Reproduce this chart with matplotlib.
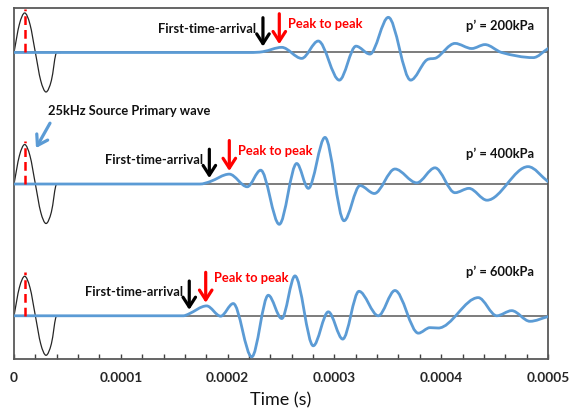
import matplotlib.pyplot as plt
import numpy as np
from matplotlib.path import Path
from matplotlib.patches import PathPatch
from matplotlib.ticker import MultipleLocator, FuncFormatter

# times in microseconds, amplitudes normalised to the source peak
source_t = [0, 5, 10, 15, 20, 25, 30, 35, 40, 44]
source_a = [0, 0.71, 1.0, 0.71, 0, -0.71, -1.0, -0.71, 0, 0]

t_200 = [0, 221.0, 233.1, 250.7, 269.4, 284.9, 304.6, 320.2, 333.3, 350.5,
         371.4, 386.4, 395.8, 412.9, 428.6, 441.0, 456.6, 486.2, 500]
a_200 = [0, 0, 0.02, 0.13, -0.15, 0.29, -0.70, 0.16, -0.04, 0.89,
         -0.70, -0.19, -0.13, 0.23, 0.10, 0.20, 0, -0.13, 0.10]

t_400 = [0, 174.2, 183.5, 201.6, 218.4, 231.0, 248.4, 264.7, 275.6, 291.2,
         309.0, 324.0, 337.4, 356.7, 377.1, 394.2, 412.9, 426.0, 442.9,
         481.3, 500]
a_400 = [0, 0, 0.06, 0.25, -0.07, 0.35, -1.02, 0.52, -0.11, 1.18,
         -0.93, -0.04, -0.24, 0.38, 0.03, 0.41, -0.22, -0.11, -0.41,
         0.44, 0.06]

t_600 = [0, 158.5, 163.2, 180.4, 193.5, 205.3, 222.6, 238.1, 250.7, 263.1,
         280.2, 294.3, 307.8, 323.0, 341.1, 356.7, 378.6, 389.5, 397.3,
         434.7, 452.0, 466.0, 483.1, 500]
a_600 = [0, 0, 0.04, 0.25, -0.01, 0.31, -1.04, 0.52, -0.07, 1.01,
         -0.76, 0.10, -0.59, 0.62, 0, 0.64, -0.44, -0.30, -0.31,
         0.46, 0, 0.13, -0.14, -0.02]

pressures = ["p\u2019 = 200kPa", "p\u2019 = 400kPa", "p\u2019 = 600kPa"]
arrival_times = [233.1, 182.9, 164.1]
peak_times = [248.4, 201.6, 179.5]
peak_amps = [0.13, 0.25, 0.25]

traces = [(t_200, a_200), (t_400, a_400), (t_600, a_600)]

# layout
offsets = [7.76, 4.43, 1.094]
ptp_text_y = [0.72, 0.84, 0.96]
label_y = [0.67, 0.76, 1.11]

BLUE = "#5B9BD5"
FONT = ["Lato", "DejaVu Sans"]
ARROW = "->,head_length=0.7,head_width=0.45"


def smooth_path(t, a, base):
    """Monotone cubic Hermite through the read points, as bezier segments."""
    t = np.asarray(t, float) * 1e-6
    a = np.asarray(a, float) + base
    n = len(t)
    d = np.diff(a) / np.diff(t)
    m = np.zeros(n)
    m[0], m[-1] = d[0], d[-1]
    for i in range(1, n - 1):
        if d[i - 1] * d[i] > 0:
            m[i] = (a[i + 1] - a[i - 1]) / (t[i + 1] - t[i - 1])
            lim = 3 * min(abs(d[i - 1]), abs(d[i]))
            m[i] = np.sign(m[i]) * min(abs(m[i]), lim)
    verts = [(t[0], a[0])]
    codes = [Path.MOVETO]
    for i in range(n - 1):
        h = t[i + 1] - t[i]
        verts += [(t[i] + h / 3, a[i] + m[i] * h / 3),
                  (t[i + 1] - h / 3, a[i + 1] - m[i + 1] * h / 3),
                  (t[i + 1], a[i + 1])]
        codes += [Path.CURVE4] * 3
    return Path(verts, codes)


fig = plt.figure(figsize=(5.69, 4.12), dpi=100)
ax = fig.add_axes([14 / 569, 1 - 359 / 412, 534 / 569, 351 / 412])

for k, (t, a) in enumerate(traces):
    base = offsets[k]
    ax.axhline(base, color="#595959", lw=1.1, zorder=1)
    ax.add_patch(PathPatch(smooth_path(source_t, source_a, base), fill=False,
                           edgecolor="#262626", lw=0.9, zorder=2))
    ax.add_patch(PathPatch(smooth_path(t, a, base), fill=False,
                           edgecolor=BLUE, lw=2.0, zorder=3,
                           capstyle="round", joinstyle="round"))
    ax.plot([10e-6, 10e-6], [base, base + 1.1], color="red", lw=1.8,
            ls=(0, (3.5, 2)), zorder=4)

    ta = arrival_times[k] * 1e-6
    tp = peak_times[k] * 1e-6
    ax.annotate("", xy=(ta, base + 0.15), xytext=(ta, base + 0.88),
                arrowprops=dict(arrowstyle=ARROW, lw=2.3, color="black",
                                shrinkA=0, shrinkB=0))
    ax.annotate("", xy=(tp, base + peak_amps[k] + 0.08),
                xytext=(tp, base + peak_amps[k] + 0.85),
                arrowprops=dict(arrowstyle=ARROW, lw=2.3, color="red",
                                shrinkA=0, shrinkB=0))
    ax.text(ta - 6e-6, base + 0.6, "First-time-arrival", ha="right",
            va="center", fontsize=9.3, fontweight="bold", family=FONT,
            color="#111111")
    ax.text(tp + 8e-6, base + ptp_text_y[k], "Peak to peak", ha="left",
            va="center", fontsize=9.3, fontweight="bold", family=FONT,
            color="red")
    ax.text(423e-6, base + label_y[k], pressures[k], ha="left", va="center",
            fontsize=9.3, fontweight="bold", family=FONT, color="#111111")

# source wave callout
ax.annotate("", xy=(20.6e-6, 5.34), xytext=(33.7e-6, 5.97),
            arrowprops=dict(arrowstyle=ARROW, lw=2.3, color=BLUE,
                            shrinkA=0, shrinkB=0))
ax.text(31.8e-6, 6.28, "25kHz Source Primary wave", ha="left", va="center",
        fontsize=9.3, fontweight="bold", family=FONT, color="#111111")

ax.set_xlim(0, 0.0005)
ax.set_ylim(0, 351 / 39.5)
ax.xaxis.set_major_locator(MultipleLocator(0.0001))
ax.xaxis.set_minor_locator(MultipleLocator(0.00002))
ax.xaxis.set_major_formatter(FuncFormatter(lambda v, p: f"{v:g}"))
ax.tick_params(axis="x", which="both", direction="in", length=3.5,
               color="#404040", width=1.0, pad=9)
ax.tick_params(axis="x", which="major", labelsize=9.8)
for lab in ax.get_xticklabels():
    lab.set_fontweight("bold")
    lab.set_family(FONT)
    lab.set_color("#262626")
ax.set_yticks([])
for s in ax.spines.values():
    s.set_color("#595959")
    s.set_linewidth(1.3)
ax.set_xlabel("Time (s)", fontsize=13, family=FONT, color="#111111",
              labelpad=6)

fig.savefig("out.png", dpi=100)
